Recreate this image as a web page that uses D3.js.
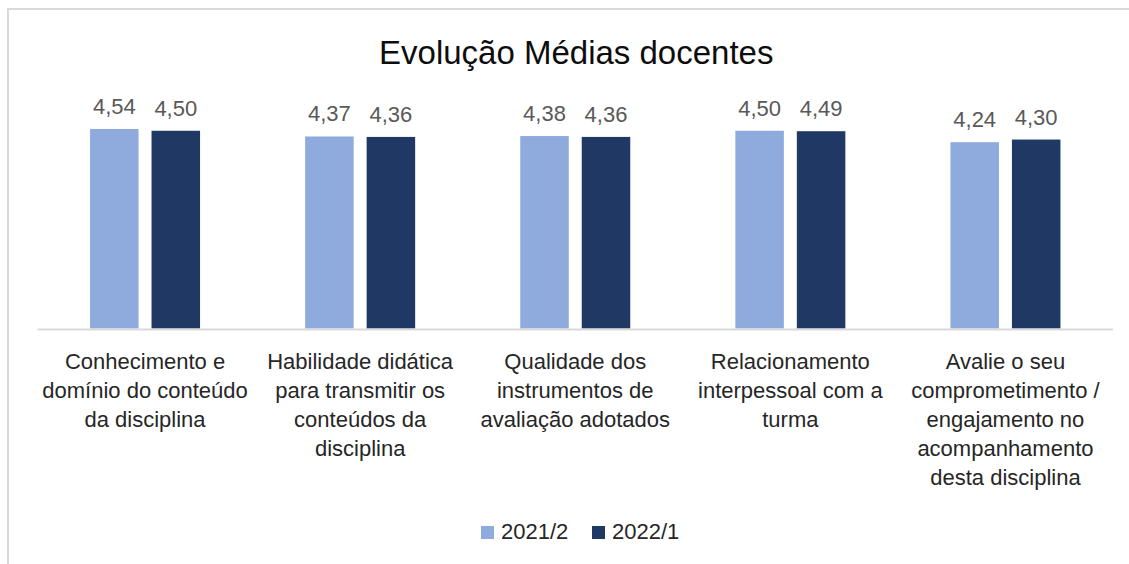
<!DOCTYPE html>
<html>
<head>
<meta charset="utf-8">
<script src="https://d3js.org/d3.v7.min.js"></script>
<style>
  html, body { margin: 0; padding: 0; background: #fff; }
  svg { display: block; }
</style>
</head>
<body>
<script>
const title = "Evolução Médias docentes";
const categories = [
  ["Conhecimento e", "domínio do conteúdo", "da disciplina"],
  ["Habilidade didática", "para transmitir os", "conteúdos da", "disciplina"],
  ["Qualidade dos", "instrumentos de", "avaliação adotados"],
  ["Relacionamento", "interpessoal com a", "turma"],
  ["Avalie o seu", "comprometimento /", "engajamento no", "acompanhamento", "desta disciplina"]
];
const seriesNames = ["2021/2", "2022/1"];
const values2021_2 = [4.54, 4.37, 4.38, 4.50, 4.24];
const values2022_1 = [4.50, 4.36, 4.36, 4.49, 4.30];
const seriesColors = ["#8FAADC", "#203864"];

const W = 1129, H = 564;
const font = "'Liberation Sans', Arial, sans-serif";
const svg = d3.select("body").append("svg").attr("width", W).attr("height", H);

// frame
svg.append("path")
  .attr("d", `M8,${H} L8,9 L${W},9`)
  .attr("fill", "none").attr("stroke", "#D9D9D9").attr("stroke-width", 2);

const plot = { left: 37.5, right: 1113, top: 108.8, bottom: 328.5 };
const idx = d3.range(categories.length);
const x0 = d3.scaleBand().domain(idx).range([plot.left, plot.right]).paddingInner(0).paddingOuter(0);
const groupW = 110;
const x1 = d3.scaleBand().domain(seriesNames)
  .range([x0.bandwidth() / 2 - groupW / 2, x0.bandwidth() / 2 + groupW / 2])
  .paddingInner(0.211).paddingOuter(0);
const y = d3.scaleLinear().domain([0, 5]).range([plot.bottom, plot.top]);

const data = idx.map(i => ({ i, vals: [values2021_2[i], values2022_1[i]] }));

// title
svg.append("text")
  .attr("x", (plot.left + plot.right) / 2 + 1)
  .attr("y", 63.5)
  .attr("text-anchor", "middle")
  .attr("font-family", font).attr("font-size", 33)
  .attr("fill", "#0d0d0d")
  .text(title);

const groups = svg.selectAll("g.grp").data(data).enter().append("g")
  .attr("class", "grp")
  .attr("transform", d => `translate(${x0(d.i)},0)`);

groups.selectAll("rect").data(d => d.vals.map((v, k) => ({ v, k }))).enter().append("rect")
  .attr("x", d => x1(seriesNames[d.k]))
  .attr("width", x1.bandwidth())
  .attr("y", d => y(d.v))
  .attr("height", d => y(0) - y(d.v))
  .attr("fill", d => seriesColors[d.k]);

groups.selectAll("text.val").data(d => d.vals.map((v, k) => ({ v, k }))).enter().append("text")
  .attr("class", "val")
  .attr("x", d => x1(seriesNames[d.k]) + x1.bandwidth() / 2)
  .attr("y", d => y(d.v) - 15)
  .attr("text-anchor", "middle")
  .attr("font-family", font).attr("font-size", 22)
  .attr("fill", "#595959")
  .text(d => d3.format(".2f")(d.v).replace(".", ","));

// baseline
svg.append("line")
  .attr("x1", plot.left).attr("x2", plot.right)
  .attr("y1", plot.bottom + 1).attr("y2", plot.bottom + 1)
  .attr("stroke", "#D9D9D9").attr("stroke-width", 2);

// category labels
const catG = svg.append("g");
idx.forEach(i => {
  const t = catG.append("text")
    .attr("text-anchor", "middle")
    .attr("font-family", font).attr("font-size", 22)
    .attr("fill", "#262626");
  categories[i].forEach((line, j) => {
    t.append("tspan")
      .attr("x", x0(i) + x0.bandwidth() / 2)
      .attr("y", 368.5 + j * 29.2)
      .text(line);
  });
});

// legend
const legend = svg.append("g");
const legX = [481, 592];
seriesNames.forEach((s, k) => {
  legend.append("rect")
    .attr("x", legX[k]).attr("y", 526)
    .attr("width", 13).attr("height", 13)
    .attr("fill", seriesColors[k]);
  legend.append("text")
    .attr("x", legX[k] + 20).attr("y", 539)
    .attr("font-family", font).attr("font-size", 22)
    .attr("fill", "#262626")
    .text(s);
});
</script>
</body>
</html>
